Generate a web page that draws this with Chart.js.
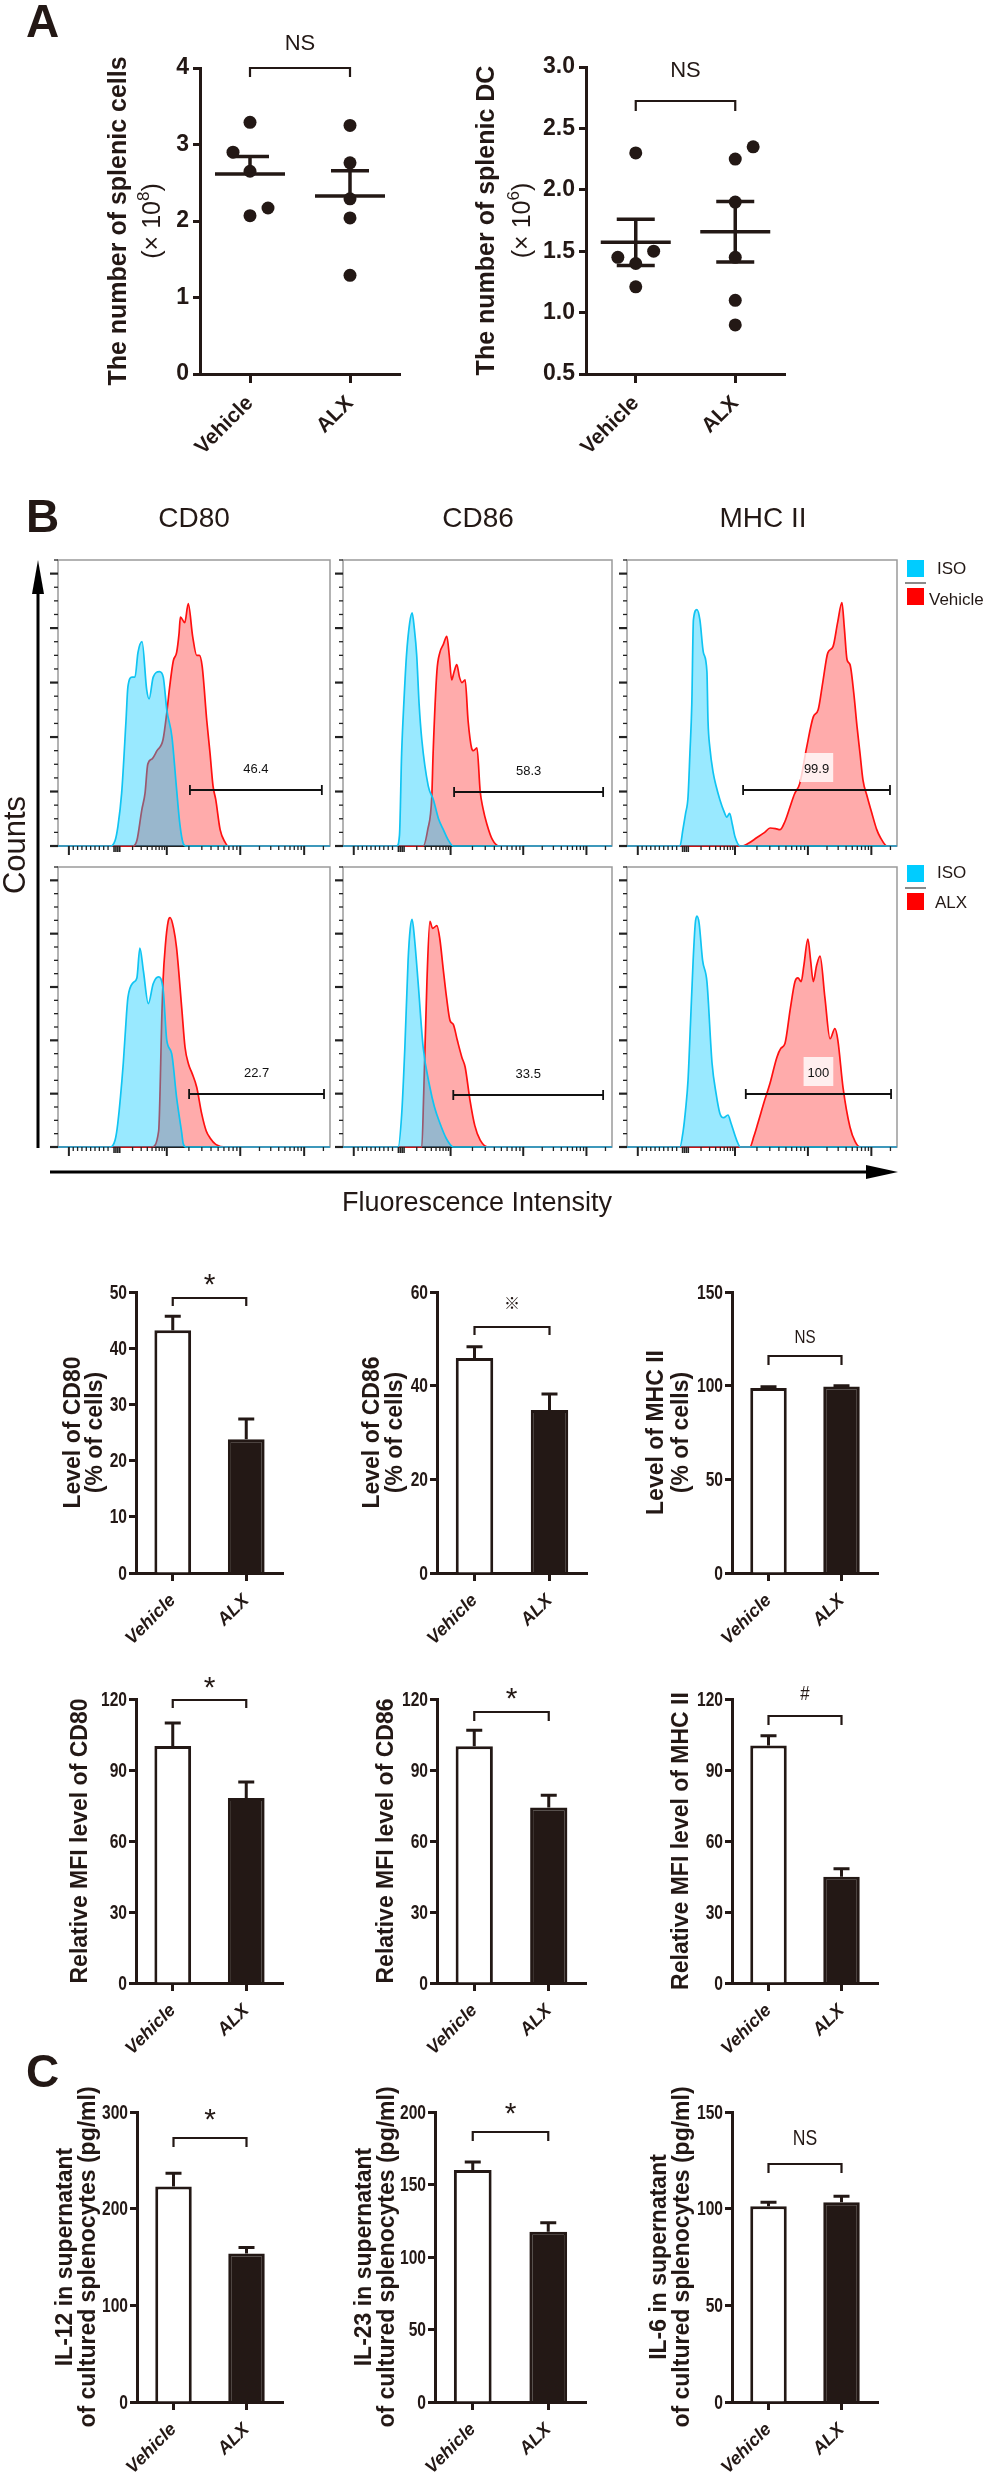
<!DOCTYPE html>
<html>
<head>
<meta charset="utf-8">
<title>ALX and splenic dendritic cells</title>
<script src="https://cdn.jsdelivr.net/npm/chart.js@4.4.1/dist/chart.umd.min.js"></script>
<style>
  body { margin: 0; background: #fff; }
  #page { position: relative; width: 987px; height: 2481px; overflow: hidden; background: #fff; }
  #page canvas { position: absolute; }
  #overlay { position: absolute; left: 0; top: 0; z-index: 2; }
</style>
</head>
<body>
<div id="page">
<svg id="overlay" width="987" height="2481" font-family="Liberation Sans, Arial, sans-serif" fill="#231815">
  <text x="26" y="37" font-size="46" font-weight="bold">A</text>
  <text x="26" y="532" font-size="46" font-weight="bold">B</text>
  <text x="26" y="2087" font-size="46" font-weight="bold">C</text>
  <g font-size="28" text-anchor="middle">
    <text x="194" y="527">CD80</text>
    <text x="478" y="527">CD86</text>
    <text x="763" y="527">MHC II</text>
  </g>
  <text transform="translate(25,845) rotate(-90)" font-size="31" text-anchor="middle">Counts</text>
  <text x="477" y="1211" font-size="27" text-anchor="middle">Fluorescence Intensity</text>
  <line x1="38" y1="1148" x2="38" y2="585" stroke="#000" stroke-width="3"/>
  <polygon points="38,560 32,594 44,594" fill="#000"/>
  <line x1="50" y1="1172" x2="872" y2="1172" stroke="#000" stroke-width="3"/>
  <polygon points="898,1172 866,1165 866,1179" fill="#000"/>
  <!-- legends -->
  <rect x="907" y="560" width="17" height="17" fill="#00ccff"/>
  <line x1="905" y1="583" x2="926" y2="583" stroke="#8a8a8a" stroke-width="2"/>
  <rect x="907" y="588" width="17" height="17" fill="#ff0000"/>
  <text x="937" y="574" font-size="17">ISO</text>
  <text x="929" y="605" font-size="17">Vehicle</text>
  <rect x="907" y="865" width="17" height="17" fill="#00ccff"/>
  <line x1="905" y1="888" x2="926" y2="888" stroke="#8a8a8a" stroke-width="2"/>
  <rect x="907" y="893" width="17" height="17" fill="#ff0000"/>
  <text x="937" y="878" font-size="17">ISO</text>
  <text x="935" y="908" font-size="17">ALX</text>
</svg>
</div>
<script>
const ink = '#231815';
const groups = ['Vehicle', 'ALX'];

// ---- A: counts per mouse ----
const cellsVehicle = [3.29, 2.9, 2.65, 2.07, 2.17];
const cellsVehicleJitter = [0, -0.17, 0, 0, 0.18];
const cellsALX = [3.25, 2.76, 2.29, 2.04, 1.29];
const cellsALXJitter = [0, 0, 0, 0, 0];
const dcVehicle = [2.3, 1.45, 1.4, 1.5, 1.21];
const dcVehicleJitter = [0, -0.18, 0, 0.18, 0];
const dcALX = [2.35, 2.25, 1.9, 1.45, 1.1, 0.9];
const dcALXJitter = [0.18, 0, 0, 0, 0, 0];

// ---- B: flow histograms (channel 0-100, counts) ----
const cd80IsoVX = [0, 19, 21, 22, 23.4, 25, 25.7, 27.2, 28.3, 29.4, 30.9, 32.6, 33.5, 35, 37.3, 38.7, 40, 41.9, 43.5, 44.8, 46, 47, 100];
const cd80IsoVY = [0, 0, 0.1, 0.35, 0.97, 2.3, 2.92, 3.1, 3.1, 3.55, 3.75, 2.87, 2.7, 3.1, 3.2, 3.1, 2.5, 2.0, 1.1, 0.4, 0.05, 0, 0];
const cd80VehX = [0, 27.6, 29, 30.8, 32, 33, 34.6, 36.4, 38.6, 40, 41, 42.4, 43.6, 44.5, 45, 46.6, 47.9, 49.5, 51, 52, 53, 54.7, 55.9, 57, 58, 59.6, 61.4, 62.5, 100];
const cd80VehY = [0, 0, 0.1, 0.66, 0.97, 1.5, 1.6, 1.75, 1.95, 2.45, 2.9, 3.4, 3.55, 3.9, 4.2, 4.1, 4.45, 3.85, 3.5, 3.5, 3.3, 2.3, 1.7, 1.1, 0.85, 0.3, 0.07, 0, 0];
const cd86IsoVX = [0, 20, 21, 21.8, 22.7, 23.6, 24.8, 25.7, 26.5, 27.4, 28.3, 29.3, 31.7, 33.6, 35.5, 37.3, 39, 41, 100];
const cd86IsoVY = [0, 0, 0.2, 1.7, 2.7, 3.5, 4.1, 4.28, 4.0, 3.5, 2.6, 1.95, 1.1, 0.85, 0.5, 0.3, 0.12, 0, 0];
const cd86VehX = [0, 29.8, 31.5, 33, 33.5, 34.9, 36, 37.3, 38.6, 39.5, 40.4, 41.3, 42.3, 43.3, 44.2, 45.4, 46.5, 47.8, 48.5, 49.8, 51, 52, 53.5, 55.5, 58, 100];
const cd86VehY = [0, 0, 0.3, 0.9, 1.7, 3.2, 3.55, 3.7, 3.85, 3.5, 3.05, 3.2, 3.33, 3.1, 3.0, 3.05, 2.3, 1.8, 1.75, 1.8, 1.0, 0.7, 0.4, 0.12, 0, 0];
const mhcIsoVX = [0, 19.6, 20.7, 21.7, 22.6, 23.3, 24, 24.6, 25.9, 27, 28.3, 29.6, 30, 30.7, 31.9, 33, 34.4, 35.8, 37, 38, 39, 40, 41.9, 100];
const mhcIsoVY = [0, 0, 0.3, 0.6, 0.9, 1.7, 2.6, 4.15, 4.34, 4.15, 3.55, 3.2, 2.3, 1.8, 1.35, 1.1, 0.85, 0.65, 0.53, 0.6, 0.4, 0.17, 0, 0];
const mhcVehX = [0, 42.6, 45, 48, 51, 53, 55, 56.7, 58.5, 60.4, 62, 64, 66.5, 69, 70.8, 72.5, 74.4, 76.3, 78, 79.6, 80.5, 81.5, 82.6, 84, 85.2, 86.3, 87.4, 89, 90.7, 92.5, 93.7, 96.3, 100];
const mhcVehY = [0, 0, 0.05, 0.15, 0.25, 0.33, 0.32, 0.3, 0.45, 0.72, 0.95, 1.15, 1.8, 2.37, 2.5, 3.0, 3.55, 3.66, 4.1, 4.47, 4.0, 3.42, 3.33, 2.8, 2.19, 1.7, 1.21, 0.9, 0.6, 0.3, 0.17, 0, 0];

const cd80IsoAX = [0, 19, 21, 22, 24, 25.2, 25.7, 27.6, 29, 30.1, 31.4, 33.2, 35, 36.9, 38.7, 40, 41.8, 43.6, 45.5, 46, 47, 100];
const cd80IsoAY = [0, 0, 0.13, 0.45, 1.57, 2.5, 2.8, 3.08, 3.17, 3.73, 3.3, 2.69, 3.06, 3.19, 2.93, 2.0, 1.75, 0.93, 0.26, 0.07, 0, 0];
const cd80AlxX = [0, 34.5, 37, 38.2, 38.6, 39.5, 40.5, 41.2, 42.5, 43.6, 45.5, 46.7, 48, 49.3, 51, 52.8, 54.5, 55.9, 58, 62, 100];
const cd80AlxY = [0, 0, 0.3, 2.5, 3.1, 3.8, 4.23, 4.3, 4.1, 3.73, 2.6, 1.87, 1.55, 1.38, 1.12, 0.63, 0.3, 0.17, 0.05, 0, 0];
const cd86IsoAX = [0, 20.5, 21.8, 23, 24.2, 25, 25.7, 26.6, 27.9, 29.8, 32.3, 34, 36, 38.5, 41, 100];
const cd86IsoAY = [0, 0, 0.6, 1.87, 3.5, 4.1, 4.27, 3.9, 3.1, 1.87, 1.12, 0.75, 0.45, 0.15, 0, 0];
const cd86AlxX = [0, 29.3, 30, 31.2, 32.3, 33.3, 34.9, 36, 37.2, 38.5, 39.8, 41, 42.5, 44.2, 45.4, 47.2, 49, 51, 54, 100];
const cd86AlxY = [0, 0, 1.0, 3.1, 4.23, 4.1, 4.15, 3.9, 3.36, 2.8, 2.37, 2.3, 2.0, 1.68, 1.5, 0.88, 0.4, 0.13, 0, 0];
const mhcIsoAX = [0, 19.6, 20.8, 21.7, 22.6, 23.5, 24.5, 25.3, 25.9, 26.7, 28, 29.6, 31.5, 33, 34.4, 35.8, 37.4, 38.5, 40.6, 42, 100];
const mhcIsoAY = [0, 0, 0.3, 0.7, 1.25, 2.3, 3.5, 4.2, 4.33, 4.2, 3.5, 3.1, 1.57, 1.0, 0.63, 0.55, 0.6, 0.45, 0.13, 0, 0];
const mhcAlxX = [0, 45.5, 47, 48.5, 51, 53, 55.5, 57, 58.5, 60.5, 62.2, 63.3, 64.5, 65.5, 67, 68, 69, 70.2, 71.5, 73.3, 75.2, 77, 78.1, 80, 82.6, 84.5, 86.3, 100];
const mhcAlxY = [0, 0, 0.2, 0.45, 0.88, 1.2, 1.68, 1.85, 1.94, 2.6, 3.1, 3.17, 3.1, 3.4, 3.9, 3.5, 3.1, 3.4, 3.58, 2.8, 2.03, 2.22, 2.0, 1.12, 0.37, 0.1, 0, 0];

// gates: CD80, CD86, MHC II (Vehicle row), then ALX row
const gateFrom = [48.5, 41.3, 43, 48.2, 41, 44];
const gateTo = [97, 96.7, 97.4, 97.8, 96.7, 97.8];
const gateLevel = [1.03, 1.0, 1.03, 1.0, 0.97, 1.0];
const gatePct = ['46.4', '58.3', '99.9', '22.7', '33.5', '100'];

// ---- B: summary bars (Vehicle, ALX) ----
const pctCD80 = [43.2, 23.8], pctCD80Err = [2.5, 3.6];
const pctCD86 = [45.9, 34.8], pctCD86Err = [2.4, 3.4];
const pctMHC = [98.8, 99.6], pctMHCErr = [0.6, 0.4];
const mfiCD80 = [100.1, 78.2], mfiCD80Err = [9.8, 6.7];
const mfiCD86 = [100, 74.2], mfiCD86Err = [6.8, 5.1];
const mfiMHC = [100.3, 44.9], mfiMHCErr = [4.2, 3.4];

// ---- C: cytokines ----
const il12 = [223, 153.6], il12Err = [13.7, 6.3];
const il23 = [160, 117.5], il23Err = [5.6, 6.2];
const il6 = [101.2, 103.3], il6Err = [2.1, 3.1];

// axis decorations for the histograms
const fluoDecades = [4, 22, 40, 67, 90.5]; // -10^3, 0, 10^3, 10^4, 10^5
const countMax = 5.25;

Chart.defaults.font.family = '"Liberation Sans", Arial, sans-serif';
Chart.defaults.color = ink;

const sans = '"Liberation Sans", Arial, sans-serif';
const page = document.getElementById('page');

function addCanvas(x, y, w, h) {
  const c = document.createElement('canvas');
  c.width = w; c.height = h;
  Object.assign(c.style, { left: x + 'px', top: y + 'px', width: w + 'px', height: h + 'px' });
  page.appendChild(c);
  return c;
}

function baseOptions(padTop, padRight) {
  return {
    responsive: false, animation: false, events: [],
    layout: { padding: { top: padTop, right: padRight, bottom: 0, left: 0 }, autoPadding: false },
    plugins: { legend: { display: false }, tooltip: { enabled: false } }
  };
}

// condensed text: no narrow face is installed, so squeeze a normal one
function squeezedText(ctx, text, x, y, squeeze) {
  ctx.save();
  ctx.translate(x, y);
  ctx.scale(squeeze, 1);
  ctx.fillText(text, 0, 0);
  ctx.restore();
}

// rotated y titles, one entry per line; dx is the offset from the y axis
function yTitle(lines) {
  return {
    id: 'yTitle',
    afterDraw(chart) {
      const { ctx, chartArea: a } = chart;
      const cy = (a.top + a.bottom) / 2;
      lines.forEach(l => {
        ctx.save();
        ctx.translate(a.left + l.dx, cy);
        ctx.rotate(-Math.PI / 2);
        ctx.fillStyle = ink;
        ctx.textBaseline = 'middle';
        ctx.textAlign = 'left';
        ctx.font = l.font;
        const w1 = ctx.measureText(l.text).width;
        const w3 = ctx.measureText(l.tail || '').width;
        ctx.font = l.supFont || l.font;
        const w2 = ctx.measureText(l.sup || '').width;
        let x = -(w1 + w2 + w3) / 2;
        ctx.font = l.font;
        ctx.fillText(l.text, x, 0);
        x += w1;
        if (l.sup) {
          ctx.font = l.supFont;
          ctx.fillText(l.sup, x, -(l.supRaise || 0));
          x += w2;
          ctx.font = l.font;
          ctx.fillText(l.tail, x, 0);
        }
        ctx.restore();
      });
    }
  };
}

// y tick labels drawn condensed at the positions of the library's ticks
function condensedTicks(font, squeeze, gap) {
  return {
    id: 'condensedTicks',
    afterDraw(chart) {
      const { ctx, chartArea: a, scales: { y } } = chart;
      ctx.save();
      ctx.font = font; ctx.fillStyle = ink; ctx.textAlign = 'right'; ctx.textBaseline = 'middle';
      y.ticks.forEach(t => squeezedText(ctx, String(t.value), a.left - gap, y.getPixelForValue(t.value) + 1, squeeze));
      ctx.restore();
    }
  };
}

function bracket(s) {
  return {
    id: 'bracket',
    afterDraw(chart) {
      const { ctx, scales: { x, y } } = chart;
      const xa = x.getPixelForValue(0), xb = x.getPixelForValue(1);
      const yb = Math.round(y.getPixelForValue(s.value));
      ctx.save();
      ctx.strokeStyle = ink; ctx.lineWidth = 2.2;
      ctx.beginPath();
      ctx.moveTo(xa, yb + s.leg); ctx.lineTo(xa, yb); ctx.lineTo(xb, yb); ctx.lineTo(xb, yb + s.leg);
      ctx.stroke();
      ctx.fillStyle = ink; ctx.font = s.font; ctx.textAlign = 'center'; ctx.textBaseline = 'alphabetic';
      squeezedText(ctx, s.text, (xa + xb) / 2, yb - s.gap, s.squeeze || 1);
      ctx.restore();
    }
  };
}

function errorBars(errs) {
  return {
    id: 'errorBars',
    afterDatasetsDraw(chart) {
      const { ctx, scales: { y } } = chart;
      const vals = chart.data.datasets[0].data;
      ctx.save();
      ctx.strokeStyle = ink; ctx.lineWidth = 3;
      chart.getDatasetMeta(0).data.forEach((bar, i) => {
        const top = y.getPixelForValue(vals[i] + errs[i]);
        ctx.beginPath();
        ctx.moveTo(bar.x, bar.y); ctx.lineTo(bar.x, top);
        ctx.moveTo(bar.x - 8, top); ctx.lineTo(bar.x + 8, top);
        ctx.stroke();
      });
      ctx.restore();
    }
  };
}

function meanSem(sets, lower) {
  return {
    id: 'meanSem',
    afterDatasetsDraw(chart) {
      const { ctx, scales: { x, y } } = chart;
      ctx.save();
      ctx.strokeStyle = ink; ctx.lineWidth = 3.5;
      sets.forEach((vals, g) => {
        const n = vals.length;
        const mean = vals.reduce((s, v) => s + v, 0) / n;
        const sd = Math.sqrt(vals.reduce((s, v) => s + (v - mean) ** 2, 0) / (n - 1));
        const sem = sd / Math.sqrt(n);
        const cx = x.getPixelForValue(g);
        const ym = y.getPixelForValue(mean);
        const yHi = y.getPixelForValue(mean + sem);
        const yLo = y.getPixelForValue(lower ? mean - sem : mean);
        ctx.beginPath();
        ctx.moveTo(cx - 35, ym); ctx.lineTo(cx + 35, ym);
        ctx.moveTo(cx, yHi); ctx.lineTo(cx, yLo);
        ctx.moveTo(cx - 19, yHi); ctx.lineTo(cx + 19, yHi);
        if (lower) { ctx.moveTo(cx - 19, yLo); ctx.lineTo(cx + 19, yLo); }
        ctx.stroke();
      });
      ctx.restore();
    }
  };
}

function yAxis(min, max, step, font, width, fmt, pad, showLabels) {
  return {
    min, max,
    ticks: { display: showLabels, stepSize: step, font, color: ink, padding: pad, callback: fmt },
    grid: { drawOnChartArea: false, tickLength: 7, tickWidth: 3, tickColor: ink },
    border: { width: 3, color: ink },
    afterFit: s => { s.width = width; }
  };
}

// ---------- A: dot plots ----------
function dotPlot(cfg) {
  const yW = 130, padTop = 60, padRight = 8, xH = 95;
  const left = cfg.axisX - yW, top = cfg.yTop - padTop;
  const canvas = addCanvas(left, top, cfg.xEnd + padRight - left, cfg.yBot + xH - top);
  const pts = (vals, jit, g) => vals.map((v, i) => ({ x: g + jit[i], y: v }));
  const opts = baseOptions(padTop, padRight);
  opts.scales = {
    x: {
      type: 'linear', min: -0.5, max: 1.5,
      afterBuildTicks: s => { s.ticks = [{ value: 0 }, { value: 1 }]; },
      ticks: { callback: v => groups[v], font: { family: sans, size: 21, weight: 'bold' }, color: ink, maxRotation: 45, minRotation: 45, padding: 8, autoSkip: false },
      grid: { drawOnChartArea: false, tickLength: 9, tickWidth: 3, tickColor: ink },
      border: { width: 3, color: ink },
      afterFit: s => { s.height = xH; }
    },
    y: yAxis(cfg.min, cfg.max, cfg.step, { family: sans, size: 23, weight: 'bold' }, yW, cfg.fmt, 4, true)
  };
  return new Chart(canvas, {
    type: 'scatter',
    data: { datasets: [
      { data: pts(cfg.vehicle, cfg.vehicleJitter, 0), backgroundColor: ink, borderWidth: 0, pointRadius: 6.5 },
      { data: pts(cfg.alx, cfg.alxJitter, 1), backgroundColor: ink, borderWidth: 0, pointRadius: 6.5 }
    ] },
    options: opts,
    plugins: [yTitle(cfg.title), meanSem([cfg.vehicle, cfg.alx], cfg.lower), bracket(cfg.sig)]
  });
}

const aTitleFont = 'bold 25px ' + sans;
const aSubFont = '25px ' + sans;
const aSupFont = '17px ' + sans;

dotPlot({
  axisX: 200, xEnd: 400, yTop: 68, yBot: 374, min: 0, max: 4, step: 1, fmt: v => v,
  vehicle: cellsVehicle, vehicleJitter: cellsVehicleJitter, alx: cellsALX, alxJitter: cellsALXJitter, lower: false,
  title: [
    { text: 'The number of splenic cells', font: aTitleFont, dx: -81 },
    { text: '(× 10', sup: '8', tail: ')', font: aSubFont, supFont: aSupFont, supRaise: 9, dx: -47 }
  ],
  sig: { value: 4, leg: 9, text: 'NS', font: '22px ' + sans, gap: 18 }
});

dotPlot({
  axisX: 586, xEnd: 785, yTop: 67, yBot: 374, min: 0.5, max: 3, step: 0.5, fmt: v => v.toFixed(1),
  vehicle: dcVehicle, vehicleJitter: dcVehicleJitter, alx: dcALX, alxJitter: dcALXJitter, lower: true,
  title: [
    { text: 'The number of splenic DC', font: aTitleFont, dx: -99 },
    { text: '(× 10', sup: '6', tail: ')', font: aSubFont, supFont: aSupFont, supRaise: 9, dx: -63 }
  ],
  sig: { value: 2.72, leg: 10, text: 'NS', font: '22px ' + sans, gap: 24 }
});

// ---------- B: flow histograms ----------
const countTicks = [];
for (let v = 0; v <= countMax + 1e-9; v += 0.25) countTicks.push({ v, major: Math.abs(v - Math.round(v)) < 1e-9 });

const fluoTicks = [];
[fluoDecades[0], fluoDecades[2], fluoDecades[3], fluoDecades[4]].forEach(v => fluoTicks.push({ v, len: 9, w: 2 }));
for (let k = 1; k <= 9; k++) fluoTicks.push({ v: fluoDecades[0] + k * 1.6, len: 4, w: 1.3 });
for (let k = 2; k <= 9; k++) {
  fluoTicks.push({ v: fluoDecades[1] + (fluoDecades[2] - fluoDecades[1]) * Math.log10(k), len: 4, w: 1.3 });
  fluoTicks.push({ v: fluoDecades[2] + (fluoDecades[3] - fluoDecades[2]) * Math.log10(k), len: 4, w: 1.3 });
  fluoTicks.push({ v: fluoDecades[3] + (fluoDecades[4] - fluoDecades[3]) * Math.log10(k), len: 4, w: 1.3 });
}
fluoTicks.push({ v: fluoDecades[4] + (fluoDecades[4] - fluoDecades[3]) * Math.log10(2), len: 4, w: 1.3 });
[-1.4, -0.7, 0, 0.7].forEach(d => fluoTicks.push({ v: fluoDecades[1] + d, len: 6, w: 1.6 }));

function histFrame(i, boxed) {
  return {
    id: 'histFrame',
    beforeDatasetsDraw(chart) {
      const { ctx, chartArea: a } = chart;
      ctx.save();
      ctx.strokeStyle = '#9a9a9a'; ctx.lineWidth = 1.5;
      ctx.strokeRect(a.left, a.top, a.right - a.left, a.bottom - a.top);
      ctx.strokeStyle = '#222'; ctx.lineWidth = 2;
      ctx.beginPath(); ctx.moveTo(a.left - 8, a.bottom); ctx.lineTo(a.right, a.bottom); ctx.stroke();
      ctx.restore();
    },
    afterDraw(chart) {
      const { ctx, chartArea: a, scales: { x, y } } = chart;
      ctx.save();
      ctx.strokeStyle = '#222';
      countTicks.forEach(t => {
        const py = y.getPixelForValue(t.v);
        ctx.lineWidth = t.major ? 2.2 : 1.3;
        ctx.beginPath(); ctx.moveTo(a.left - (t.major ? 8 : 4), py); ctx.lineTo(a.left, py); ctx.stroke();
      });
      fluoTicks.forEach(t => {
        const px = x.getPixelForValue(t.v);
        ctx.lineWidth = t.w;
        ctx.beginPath(); ctx.moveTo(px, a.bottom); ctx.lineTo(px, a.bottom + t.len); ctx.stroke();
      });
      // gate
      const x0 = x.getPixelForValue(gateFrom[i]), x1 = x.getPixelForValue(gateTo[i]);
      const gy = Math.round(y.getPixelForValue(gateLevel[i]));
      ctx.strokeStyle = '#111'; ctx.lineWidth = 1.8;
      ctx.beginPath();
      ctx.moveTo(x0, gy); ctx.lineTo(x1, gy);
      ctx.moveTo(x0, gy - 5); ctx.lineTo(x0, gy + 5);
      ctx.moveTo(x1, gy - 5); ctx.lineTo(x1, gy + 5);
      ctx.stroke();
      const cx = (x0 + x1) / 2;
      ctx.font = '13px ' + sans;
      if (boxed) {
        const w = ctx.measureText(gatePct[i]).width + 8;
        ctx.fillStyle = 'rgba(255,255,255,0.8)';
        ctx.fillRect(cx - w / 2, gy - 37, w, 29);
      }
      ctx.fillStyle = '#111'; ctx.textAlign = 'center'; ctx.textBaseline = 'alphabetic';
      ctx.fillText(gatePct[i], cx, gy - 17);
      ctx.restore();
    }
  };
}

function histogram(box, isoX, isoY, smpX, smpY, i, boxed) {
  const pad = { left: 10, top: 1, right: 1, bottom: 12 };
  const canvas = addCanvas(box.l - pad.left, box.t - pad.top, box.r - box.l + pad.left + pad.right, box.b - box.t + pad.top + pad.bottom);
  const pts = (xs, ys) => xs.map((v, k) => ({ x: v, y: ys[k] }));
  const opts = baseOptions(0, 0);
  opts.layout.padding = pad;
  opts.scales = {
    x: { type: 'linear', min: 0, max: 100, display: false },
    y: { min: 0, max: countMax, display: false }
  };
  new Chart(canvas, {
    type: 'line',
    data: { datasets: [
      { data: pts(isoX, isoY), borderColor: '#10c4f2', backgroundColor: 'rgba(0,200,255,0.4)', fill: 'origin', borderWidth: 1.7, pointRadius: 0, cubicInterpolationMode: 'monotone', clip: 4 },
      { data: pts(smpX, smpY), borderColor: '#ff1010', backgroundColor: 'rgba(255,0,0,0.33)', fill: 'origin', borderWidth: 1.7, pointRadius: 0, cubicInterpolationMode: 'monotone', clip: 4 }
    ] },
    options: opts,
    plugins: [histFrame(i, boxed)]
  });
}

const colL = [58, 343, 627], colR = [330, 612, 897];
const rowT = [560, 867], rowB = [846, 1147];
histogram({ l: colL[0], r: colR[0], t: rowT[0], b: rowB[0] }, cd80IsoVX, cd80IsoVY, cd80VehX, cd80VehY, 0, false);
histogram({ l: colL[1], r: colR[1], t: rowT[0], b: rowB[0] }, cd86IsoVX, cd86IsoVY, cd86VehX, cd86VehY, 1, false);
histogram({ l: colL[2], r: colR[2], t: rowT[0], b: rowB[0] }, mhcIsoVX, mhcIsoVY, mhcVehX, mhcVehY, 2, true);
histogram({ l: colL[0], r: colR[0], t: rowT[1], b: rowB[1] }, cd80IsoAX, cd80IsoAY, cd80AlxX, cd80AlxY, 3, false);
histogram({ l: colL[1], r: colR[1], t: rowT[1], b: rowB[1] }, cd86IsoAX, cd86IsoAY, cd86AlxX, cd86AlxY, 4, false);
histogram({ l: colL[2], r: colR[2], t: rowT[1], b: rowB[1] }, mhcIsoAX, mhcIsoAY, mhcAlxX, mhcAlxY, 5, true);

// ---------- bar panels ----------
function barPanel(cfg) {
  const yW = 110, padTop = 60, padRight = 8, xH = 80;
  const left = cfg.axisX - yW, top = cfg.yTop - padTop;
  const canvas = addCanvas(left, top, cfg.xEnd + padRight - left, cfg.yBot + xH - top);
  const opts = baseOptions(padTop, padRight);
  opts.scales = {
    x: {
      offset: true,
      ticks: { font: { family: sans, size: 18, weight: 'bold', style: 'italic' }, color: ink, maxRotation: 45, minRotation: 45, padding: 9, autoSkip: false },
      grid: { offset: false, drawOnChartArea: false, tickLength: 8, tickWidth: 3, tickColor: ink },
      border: { width: 3, color: ink },
      afterFit: s => { s.height = xH; }
    },
    y: yAxis(0, cfg.max, cfg.step, { family: sans, size: 19, weight: 'bold' }, yW, v => v, 2, false)
  };
  return new Chart(canvas, {
    type: 'bar',
    data: { labels: groups, datasets: [{
      data: cfg.values, backgroundColor: ['#ffffff', ink], borderColor: ink, borderWidth: 3,
      barPercentage: 0.5, categoryPercentage: 1
    }] },
    options: opts,
    plugins: [yTitle(cfg.title), condensedTicks('bold 20px ' + sans, 0.78, 9), errorBars(cfg.errors), bracket(cfg.sig)]
  });
}

const bFont = 'bold 23px ' + sans;
const star = '30px ' + sans;

barPanel({ axisX: 136, xEnd: 283, yTop: 1292, yBot: 1573, max: 50, step: 10, values: pctCD80, errors: pctCD80Err,
  title: [{ text: 'Level of CD80', font: bFont, dx: -62 }, { text: '(% of cells)', font: bFont, dx: -40 }],
  sig: { value: 48.9, leg: 8, text: '*', font: star, gap: 4 } });
barPanel({ axisX: 437, xEnd: 587, yTop: 1292, yBot: 1573, max: 60, step: 20, values: pctCD86, errors: pctCD86Err,
  title: [{ text: 'Level of CD86', font: bFont, dx: -64 }, { text: '(% of cells)', font: bFont, dx: -41 }],
  sig: { value: 52.5, leg: 8, text: '※', font: '16px "Noto Sans CJK JP", sans-serif', gap: 18 } });
barPanel({ axisX: 732, xEnd: 878, yTop: 1292, yBot: 1573, max: 150, step: 50, values: pctMHC, errors: pctMHCErr,
  title: [{ text: 'Level of MHC II', font: bFont, dx: -75 }, { text: '(% of cells)', font: bFont, dx: -50 }],
  sig: { value: 115.8, leg: 9, text: 'NS', font: '19px ' + sans, squeeze: 0.8, gap: 13 } });

barPanel({ axisX: 136, xEnd: 283, yTop: 1699, yBot: 1983, max: 120, step: 30, values: mfiCD80, errors: mfiCD80Err,
  title: [{ text: 'Relative MFI level of CD80', font: bFont, dx: -55 }],
  sig: { value: 119.6, leg: 8, text: '*', font: star, gap: 3 } });
barPanel({ axisX: 437, xEnd: 586, yTop: 1699, yBot: 1983, max: 120, step: 30, values: mfiCD86, errors: mfiCD86Err,
  title: [{ text: 'Relative MFI level of CD86', font: bFont, dx: -50 }],
  sig: { value: 114.5, leg: 9, text: '*', font: star, gap: 4 } });
barPanel({ axisX: 732, xEnd: 878, yTop: 1699, yBot: 1983, max: 120, step: 30, values: mfiMHC, errors: mfiMHCErr,
  title: [{ text: 'Relative MFI level of MHC II', font: bFont, dx: -50 }],
  sig: { value: 112.9, leg: 9, text: '#', font: '21px ' + sans, squeeze: 0.8, gap: 16 } });

barPanel({ axisX: 137, xEnd: 283, yTop: 2112, yBot: 2402, max: 300, step: 100, values: il12, errors: il12Err,
  title: [{ text: 'IL-12 in supernatant', font: bFont, dx: -71 }, { text: 'of cultured splenocytes (pg/ml)', font: bFont, dx: -48 }],
  sig: { value: 273, leg: 9, text: '*', font: star, gap: 9 } });
barPanel({ axisX: 435, xEnd: 586, yTop: 2112, yBot: 2402, max: 200, step: 50, values: il23, errors: il23Err,
  title: [{ text: 'IL-23 in supernatant', font: bFont, dx: -70 }, { text: 'of cultured splenocytes (pg/ml)', font: bFont, dx: -47 }],
  sig: { value: 186.3, leg: 9, text: '*', font: star, gap: 9 } });
barPanel({ axisX: 732, xEnd: 878, yTop: 2112, yBot: 2402, max: 150, step: 50, values: il6, errors: il6Err,
  title: [{ text: 'IL-6 in supernatant', font: bFont, dx: -72 }, { text: 'of cultured splenocytes (pg/ml)', font: bFont, dx: -49 }],
  sig: { value: 123, leg: 9, text: 'NS', font: '22px ' + sans, squeeze: 0.8, gap: 19 } });
</script>
</body>
</html>
